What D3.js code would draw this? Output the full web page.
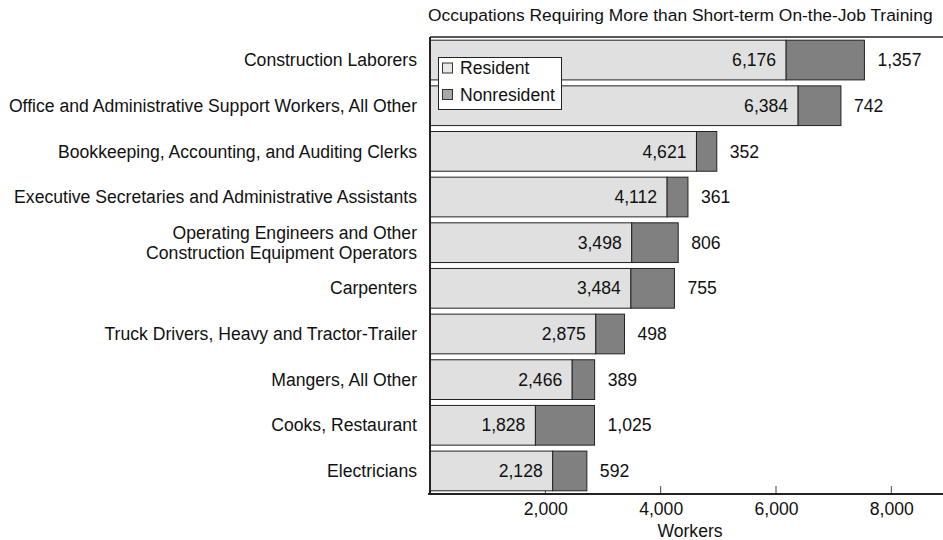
<!DOCTYPE html>
<html><head><meta charset="utf-8">
<script src="https://cdn.jsdelivr.net/npm/d3@7"></script>
<style>
html,body{margin:0;padding:0;background:#fff;}
text{font-family:"Liberation Sans",Arial,sans-serif;fill:#111;}
</style></head>
<body>
<svg id="chart" width="943" height="540"></svg>
<script>
const categories = [
  ["Construction Laborers"],
  ["Office and Administrative Support Workers, All Other"],
  ["Bookkeeping, Accounting, and Auditing Clerks"],
  ["Executive Secretaries and Administrative Assistants"],
  ["Operating Engineers and Other", "Construction Equipment Operators"],
  ["Carpenters"],
  ["Truck Drivers, Heavy and Tractor-Trailer"],
  ["Mangers, All Other"],
  ["Cooks, Restaurant"],
  ["Electricians"]
];
const resident = [6176, 6384, 4621, 4112, 3498, 3484, 2875, 2466, 1828, 2128];
const nonresident = [1357, 742, 352, 361, 806, 755, 498, 389, 1025, 592];
const tickValues = [2000, 4000, 6000, 8000];
const seriesNames = ["Resident", "Nonresident"];
const titleText = "Occupations Requiring More than Short-term On-the-Job Training";
const xTitle = "Workers";

const FS = 17.6;
const pLeft = 430, pRight = 949, pTop = 37, pBottom = 494;
const svg = d3.select("#chart");
const fmt = d3.format(",");

const x = d3.scaleLinear().domain([0, 9000]).range([pLeft, pRight]);
const y = d3.scaleBand().domain(d3.range(categories.length)).range([pTop, pBottom])
  .paddingInner(0.13).paddingOuter(0.07);

const colors = {res: "#e0e0e0", non: "#808080"};

// title
svg.append("text").attr("x", 428).attr("y", 21).attr("font-size", 17.4).text(titleText);

// ticks (behind bars)
tickValues.forEach(v => {
  svg.append("line").attr("x1", x(v)).attr("x2", x(v)).attr("y1", pBottom - 8).attr("y2", pBottom)
    .attr("stroke", "#444").attr("stroke-width", 1);
});

// bars
const g = svg.append("g");
categories.forEach((c, i) => {
  const y0 = y(i), h = y.bandwidth();
  g.append("rect").attr("x", x(0)).attr("y", y0).attr("width", x(resident[i]) - x(0)).attr("height", h)
    .attr("fill", colors.res).attr("stroke", "#222").attr("stroke-width", 1);
  g.append("rect").attr("x", x(resident[i])).attr("y", y0).attr("width", x(resident[i] + nonresident[i]) - x(resident[i])).attr("height", h)
    .attr("fill", colors.non).attr("stroke", "#222").attr("stroke-width", 1);
  g.append("text").attr("x", x(resident[i]) - 10).attr("y", y0 + h / 2).attr("dy", "0.35em")
    .attr("text-anchor", "end").attr("font-size", FS).text(fmt(resident[i]));
  g.append("text").attr("x", x(resident[i] + nonresident[i]) + 13).attr("y", y0 + h / 2).attr("dy", "0.35em")
    .attr("font-size", FS).text(fmt(nonresident[i]));
  const n = c.length;
  c.forEach((line, k) => {
    svg.append("text").attr("text-anchor", "end").attr("font-size", FS)
      .attr("x", 417).attr("y", y0 + h / 2 + (k - (n - 1) / 2) * 20).attr("dy", "0.35em").text(line);
  });
});

// frame lines
svg.append("line").attr("x1", pLeft).attr("x2", pRight).attr("y1", pTop).attr("y2", pTop)
  .attr("stroke", "#222").attr("stroke-width", 1.5);
svg.append("line").attr("x1", pLeft).attr("x2", pLeft).attr("y1", pTop).attr("y2", pBottom)
  .attr("stroke", "#222").attr("stroke-width", 2);

// x axis
const ax = svg.append("g").attr("transform", `translate(0,${pBottom})`)
  .call(d3.axisBottom(x).tickValues(tickValues).tickFormat(fmt).tickSize(0).tickPadding(8.5));
ax.select(".domain").remove();
ax.selectAll("text").attr("font-size", FS).attr("fill", "#111").attr("font-family", '"Liberation Sans",Arial,sans-serif');
svg.append("line").attr("x1", pLeft - 2).attr("x2", pRight).attr("y1", pBottom).attr("y2", pBottom)
  .attr("stroke", "#222").attr("stroke-width", 2);

svg.append("text").attr("x", 690).attr("y", 537).attr("text-anchor", "middle").attr("font-size", FS).text(xTitle);

// legend
const lg = svg.append("g");
lg.append("rect").attr("x", 438.5).attr("y", 57.5).attr("width", 123).attr("height", 52)
  .attr("fill", "#fff").attr("stroke", "#222").attr("stroke-width", 1);
const legColors = ["#e8e8e8", "#a8a8a8"];
seriesNames.forEach((s, k) => {
  const cy = 68 + k * 26.5;
  lg.append("rect").attr("x", 442.5).attr("y", cy - 5).attr("width", 10).attr("height", 10)
    .attr("fill", legColors[k]).attr("stroke", "#333").attr("stroke-width", 1);
  lg.append("text").attr("x", 460).attr("y", cy).attr("dy", "0.35em").attr("font-size", FS).text(s);
});
</script>
</body></html>
